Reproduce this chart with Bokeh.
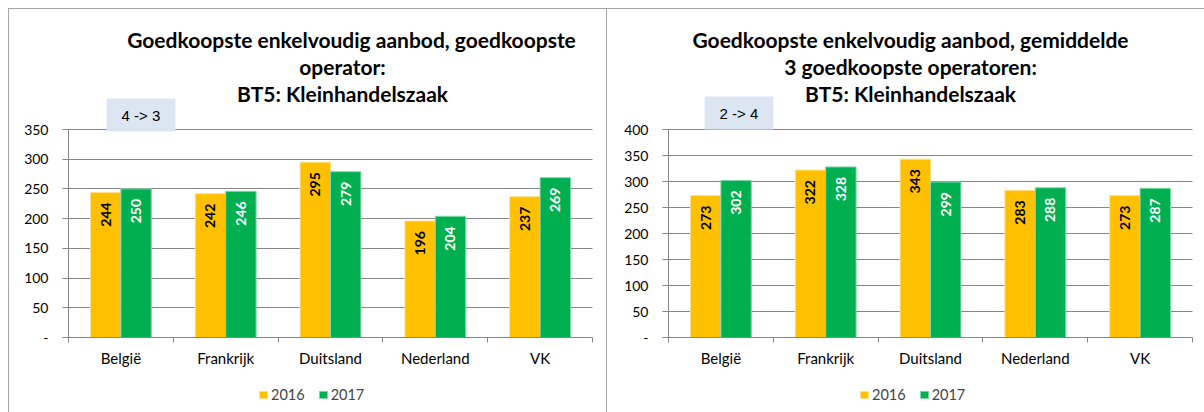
import math
from bokeh.plotting import figure
from bokeh.models import ColumnDataSource, Range1d, FixedTicker, Label, LabelSet, Legend, LegendItem
from bokeh.core.properties import value
from bokeh.transform import dodge
from bokeh.layouts import row
from bokeh.embed import file_html
from bokeh.resources import INLINE

# ---------------- data ----------------
categories = ["België", "Frankrijk", "Duitsland", "Nederland", "VK"]
series_names = ["2016", "2017"]
left_2016 = [244, 242, 295, 196, 237]
left_2017 = [250, 246, 279, 204, 269]
right_2016 = [273, 322, 343, 283, 273]
right_2017 = [302, 328, 299, 288, 287]
left_ticks = [0, 50, 100, 150, 200, 250, 300, 350]
right_ticks = [0, 50, 100, 150, 200, 250, 300, 350, 400]
left_title = ["Goedkoopste enkelvoudig aanbod, goedkoopste", "operator:", "BT5: Kleinhandelszaak"]
right_title = ["Goedkoopste enkelvoudig aanbod, gemiddelde", "3 goedkoopste operatoren:", "BT5: Kleinhandelszaak"]
left_note = "4 -> 3"
right_note = "2 -> 4"

# ---------------- style / geometry (pixels inside each canvas) ----------------
C16 = "#FFC000"
C17 = "#00B050"
GRID = "#868686"
FONT = "Lato"
W, H = 598, 404
PLOT_TOP = 120       # canvas y of the top gridline
PLOT_H = 208         # height of the value area
PLOT_W = 524         # width of the category area
BAR_W = 0.29
TITLE_BASELINES = [29.5, 56.5, 83.5]


def make_chart(v16, v17, ticks, title_lines, note, plot_left,
               title_cxs, note_box, legend_x):
    n = len(categories)
    xs = [i + 0.5 for i in range(n)]
    src = ColumnDataSource(dict(x=xs, cat=categories, v16=v16, v17=v17,
                                t16=[str(v) for v in v16], t17=[str(v) for v in v17]))
    ymax = ticks[-1]
    upp_y = ymax / PLOT_H
    upp_x = n / PLOT_W
    plot_bottom = PLOT_TOP + PLOT_H
    y_rng = Range1d(-(H - plot_bottom) * upp_y, ymax + PLOT_TOP * upp_y)
    x_rng = Range1d(-plot_left * upp_x, n + (W - plot_left - PLOT_W) * upp_x)
    p = figure(width=W, height=H, output_backend="svg", toolbar_location=None,
               x_range=x_rng, y_range=y_rng,
               min_border=0, min_border_left=0, min_border_right=0,
               min_border_top=0, min_border_bottom=0)
    p.outline_line_color = None
    p.background_fill_color = "white"
    p.border_fill_color = "white"
    border = "1px solid #a6a6a6"
    p.styles = {"border-top": border, "border-left": border}

    # horizontal gridlines limited to the category area
    p.xgrid.grid_line_color = None
    try:
        p.ygrid.cross_bounds = (0, n)
        p.ygrid.grid_line_color = GRID
        p.ygrid.ticker = FixedTicker(ticks=ticks)
    except AttributeError:
        p.ygrid.grid_line_color = None
        p.segment(x0=[0] * len(ticks), x1=[n] * len(ticks), y0=ticks, y1=ticks,
                  line_color=GRID, line_width=1)

    r16 = p.vbar(x=dodge("x", -BAR_W / 2), top="v16", width=BAR_W, source=src,
                 fill_color=C16, line_color="#ffe08a", line_width=1)
    r17 = p.vbar(x=dodge("x", BAR_W / 2), top="v17", width=BAR_W, source=src,
                 fill_color=C17, line_color="#7fd7a7", line_width=1)

    p.add_layout(LabelSet(x=dodge("x", -BAR_W / 2), y="v16", text="t16", source=src,
                          angle=math.pi / 2, text_align="right", text_baseline="middle",
                          y_offset=-10, text_font=value(FONT), text_font_style="bold",
                          text_font_size="14px", text_color="black"))
    p.add_layout(LabelSet(x=dodge("x", BAR_W / 2), y="v17", text="t17", source=src,
                          angle=math.pi / 2, text_align="right", text_baseline="middle",
                          y_offset=-10, text_font=value(FONT), text_font_style="bold",
                          text_font_size="14px", text_color="white"))

    # y axis
    yax = p.yaxis[0]
    yax.fixed_location = 0
    yax.ticker = FixedTicker(ticks=ticks)
    yax.bounds = (0, ymax)
    yax.major_label_overrides = {0: "-"}
    yax.axis_line_color = GRID
    yax.major_tick_line_color = GRID
    yax.major_tick_out = 6
    yax.major_tick_in = 0
    yax.minor_tick_line_color = None
    yax.major_label_standoff = 14
    yax.major_label_text_font = FONT
    yax.major_label_text_font_size = "14px"
    yax.major_label_text_color = "black"

    # x axis
    xax = p.xaxis[0]
    xax.fixed_location = 0
    xax.bounds = (0, n)
    xax.ticker = FixedTicker(ticks=xs, minor_ticks=list(range(n + 1)))
    xax.major_label_overrides = {x: c for x, c in zip(xs, categories)}
    xax.axis_line_color = GRID
    xax.major_tick_line_color = None
    xax.major_tick_out = 0
    xax.major_tick_in = 0
    xax.minor_tick_line_color = GRID
    xax.minor_tick_out = 5
    xax.minor_tick_in = 0
    xax.major_label_standoff = 6
    xax.major_label_text_font = FONT
    xax.major_label_text_font_size = "15px"
    xax.major_label_text_color = "black"

    # titles (screen units: from canvas bottom-left, y up)
    for line, base, cx in zip(title_lines, TITLE_BASELINES, title_cxs):
        p.add_layout(Label(x=cx, y=H - base,
                           x_units="screen", y_units="screen", text=line,
                           text_align="center", text_baseline="alphabetic",
                           text_font=FONT, text_font_style="bold", text_font_size="21px",
                           text_color="black"))
    # note box
    bx0, by0, bx1, by1 = note_box
    p.add_layout(Label(x=(bx0 + bx1) / 2, y=H - (by0 + by1) / 2,
                       x_units="screen", y_units="screen", text=note,
                       text_align="center", text_baseline="middle",
                       text_font="Liberation Sans", text_font_size="15px", text_color="black",
                       background_fill_color="#DCE6F2", padding=(15, 8)))

    legend = Legend(items=[LegendItem(label=series_names[0], renderers=[r16]),
                           LegendItem(label=series_names[1], renderers=[r17])],
                    orientation="horizontal", location=(legend_x, 10),
                    glyph_width=10, glyph_height=9, label_standoff=3, spacing=13,
                    padding=0, margin=0, border_line_color=None,
                    background_fill_alpha=0, label_text_font=FONT,
                    label_text_font_size="14.5px", label_height=18)
    p.add_layout(legend, "center")
    return p


p1 = make_chart(left_2016, left_2017, left_ticks, left_title, left_note,
                plot_left=59, title_cxs=[342, 333, 333], note_box=(97, 89, 166, 122),
                legend_x=249)
p2 = make_chart(right_2016, right_2017, right_ticks, right_title, right_note,
                plot_left=61, title_cxs=[303, 303, 303], note_box=(97, 88, 166, 119),
                legend_x=252)

layout = row(p1, p2, styles={"margin-left": "8px", "margin-top": "8px"})
open("out.html", "w").write(file_html(layout, INLINE))
